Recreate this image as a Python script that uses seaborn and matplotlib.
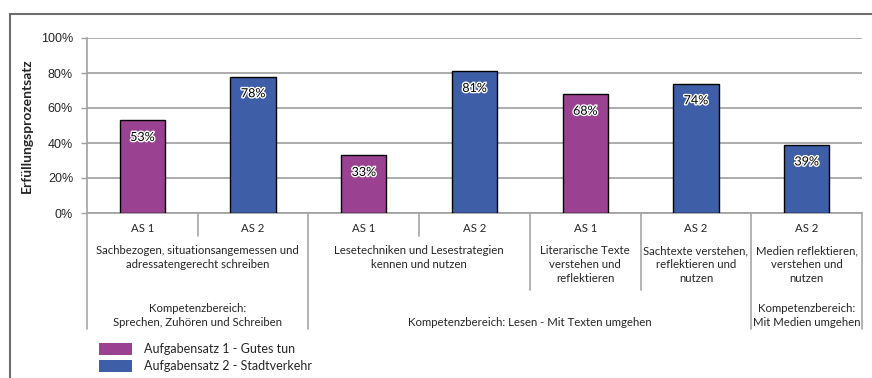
import matplotlib
matplotlib.use("Agg")
import matplotlib.pyplot as plt
import matplotlib.patheffects as pe
from matplotlib.transforms import blended_transform_factory
import seaborn as sns
import pandas as pd

# ---- data ----
task_sets = ["AS 1", "AS 2", "AS 1", "AS 2", "AS 1", "AS 2", "AS 2"]
values = [53, 78, 33, 81, 68, 74, 39]
series = ["Aufgabensatz 1 - Gutes tun", "Aufgabensatz 2 - Stadtverkehr",
          "Aufgabensatz 1 - Gutes tun", "Aufgabensatz 2 - Stadtverkehr",
          "Aufgabensatz 1 - Gutes tun", "Aufgabensatz 2 - Stadtverkehr",
          "Aufgabensatz 2 - Stadtverkehr"]
# descriptions: (text, first column, last column)
descriptions = [
    ("Sachbezogen, situationsangemessen und\nadressatengerecht schreiben", 0, 1),
    ("Lesetechniken und Lesestrategien\nkennen und nutzen", 2, 3),
    ("Literarische Texte\nverstehen und\nreflektieren", 4, 4),
    ("Sachtexte verstehen,\nreflektieren und\nnutzen", 5, 5),
    ("Medien reflektieren,\nverstehen und\nnutzen", 6, 6),
]
domains = [
    ("Kompetenzbereich:\nSprechen, Zuhören und Schreiben", 0, 1),
    ("Kompetenzbereich: Lesen - Mit Texten umgehen", 2, 5),
    ("Kompetenzbereich:\nMit Medien umgehen", 6, 6),
]
y_ticks = [0, 20, 40, 60, 80, 100]
y_label = "Erfüllungsprozentsatz"
colors = {"Aufgabensatz 1 - Gutes tun": "#9A4291",
          "Aufgabensatz 2 - Stadtverkehr": "#3E5EA8"}

df = pd.DataFrame({"pos": [str(i) for i in range(len(values))],
                   "value": values, "series": series})

sns.set_theme(style="white")
plt.rcParams["font.family"] = ["Lato", "DejaVu Sans"]

W, H = 872, 378
fig = plt.figure(figsize=(W / 100, H / 100), dpi=100)
ax = fig.add_axes([87 / W, (H - 213) / H, (862 - 87) / W, 175 / H])

sns.barplot(data=df, x="pos", y="value", hue="series", palette=colors,
            dodge=False, width=0.41, edgecolor="black", linewidth=1.0,
            saturation=1, ax=ax, zorder=3)

handles, labels = ax.get_legend_handles_labels()
if ax.get_legend() is not None:
    ax.get_legend().remove()

ax.set_xlim(-0.5, len(values) - 0.5)
ax.set_ylim(0, 100)
ax.set_yticks(y_ticks)
ax.set_yticklabels([f"{v}%" for v in y_ticks], fontsize=9,
                   family=["Liberation Sans", "DejaVu Sans"])
ax.tick_params(axis="y", length=4, width=1, color="#A0A0A0", pad=6, left=True)
ax.set_xticks([])
ax.set_xlabel("")
ax.set_ylabel(y_label, fontsize=10, fontweight="bold")
ax.yaxis.set_label_coords(-(87 - 33) / (862 - 87), 0.5)
ax.grid(axis="y", color="#A6A6A6", linewidth=1.3, zorder=0)
ax.set_axisbelow(True)
for s in ["top", "right"]:
    ax.spines[s].set_visible(False)
for s in ["left", "bottom"]:
    ax.spines[s].set_color("#A0A0A0")
    ax.spines[s].set_linewidth(1.2)

# value labels
for i, v in enumerate(values):
    ax.annotate(f"{v}%", (i, v), xytext=(0, -12), textcoords="offset points",
                ha="center", va="center", fontsize=9, color="black", zorder=5,
                path_effects=[pe.withStroke(linewidth=2, foreground="white")])

# category axis table below the plot
tr = blended_transform_factory(ax.transData, fig.transFigure)
def fy(py):
    return 1 - py / H

sep_kw = dict(color="#A6A6A6", linewidth=1.2, transform=tr, clip_on=False)
n = len(values)
for k in range(n + 1):
    x = k - 0.5
    bottom = 236
    if any(x == a - 0.5 or x == b + 0.5 for _, a, b in descriptions):
        bottom = 290
    if any(x == a - 0.5 or x == b + 0.5 for _, a, b in domains):
        bottom = 329
    fig.add_artist(plt.Line2D([x, x], [fy(213), fy(bottom)], **sep_kw))

for i, t in enumerate(task_sets):
    fig.text(i, fy(228), t, transform=tr, ha="center", va="center", fontsize=8.2)
for text, a, b in descriptions:
    fig.text((a + b) / 2, fy(245), text, transform=tr, ha="center", va="top",
             fontsize=8.2, linespacing=1.33)
for text, a, b in domains:
    fig.text((a + b) / 2, fy(328), text, transform=tr, ha="center", va="bottom",
             fontsize=8.2, linespacing=1.3)

# legend
fig.legend(handles, labels, loc="upper left", bbox_to_anchor=(99 / W, fy(343)),
           frameon=False, fontsize=9, handlelength=2.6, handleheight=1.05,
           handletextpad=1.0, labelspacing=0.4, borderaxespad=0, borderpad=0)
for h in fig.legends[0].legend_handles:
    h.set_edgecolor("none")

# outer frame
frame_kw = dict(color="#6E6E6E", linewidth=1.5, transform=fig.transFigure)
fig.add_artist(plt.Line2D([10 / W, 1], [fy(14), fy(14)], **frame_kw))
fig.add_artist(plt.Line2D([10 / W, 10 / W], [0, fy(14)], **frame_kw))

fig.savefig("out.png", dpi=100)
